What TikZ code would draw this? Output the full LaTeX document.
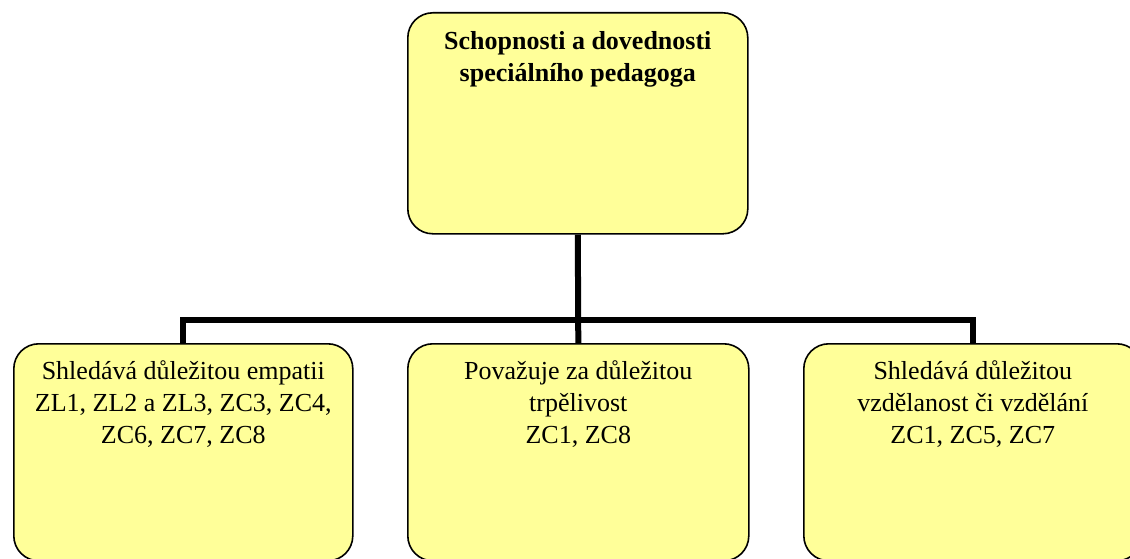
\documentclass[tikz,border=0pt]{standalone}
\usepackage{fontspec}
\setmainfont{Liberation Serif}
\begin{document}
\begin{tikzpicture}[x=1pt,y=-1pt,
  box/.style={draw=black, line width=1.6pt, fill=boxyellow, rounded corners=25pt,
    inner sep=0pt, anchor=north west},
  lbl/.style={anchor=north, align=center, inner sep=0pt,
    font=\fontsize{26}{32}\selectfont},
  conn/.style={draw=black, line width=6pt, line join=miter, line cap=butt}]
\definecolor{boxyellow}{HTML}{FFFF99}
\useasboundingbox (0,0) rectangle (1130,559);
\clip (0,0) rectangle (1130,559);

% boxes
\node[box, minimum width=340pt, minimum height=221pt] (top) at (407,12) {};
\node[box, minimum width=339pt, minimum height=217pt] (l) at (13,343) {};
\node[box, minimum width=341pt, minimum height=217pt] (m) at (407,343) {};
\node[box, minimum width=338pt, minimum height=217pt] (r) at (803,343) {};

% connectors
\coordinate (bus) at (577,320);
\draw[conn] (top.south) -- (m.north);
\draw[conn] (l.north) -- (l.north |- bus) -- (r.north |- bus) -- (r.north);

% texts
\node[lbl, font=\fontsize{26}{32}\selectfont\bfseries] (ttop) at ([yshift=-19pt]top.north)
  {Schopnosti a dovednosti\\speciálního pedagoga};
\node[lbl] (tl) at ([yshift=-17pt]l.north)
  {Shledává důležitou empatii\\ZL1, ZL2 a ZL3, ZC3, ZC4,\\ZC6, ZC7, ZC8};
\node[lbl] (tm) at ([yshift=-17pt]m.north)
  {Považuje za důležitou\\trpělivost\\ZC1, ZC8};
\node[lbl] (tr) at ([yshift=-17pt]r.north)
  {Shledává důležitou\\vzdělanost či vzdělání\\ZC1, ZC5, ZC7};
\end{tikzpicture}
\end{document}
